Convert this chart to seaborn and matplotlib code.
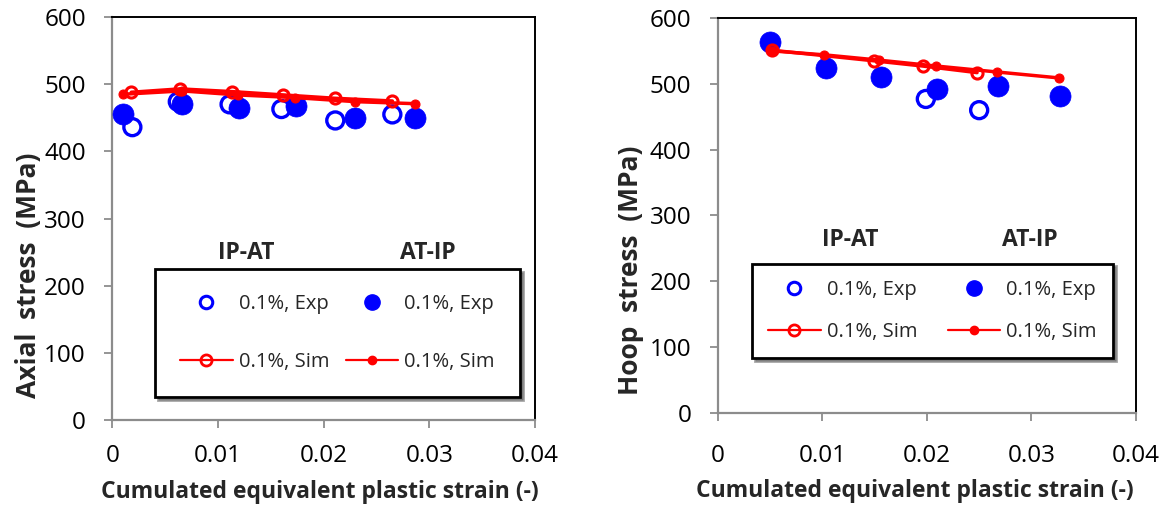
import matplotlib
matplotlib.use("Agg")
import matplotlib.pyplot as plt
from matplotlib.lines import Line2D
import seaborn as sns

sns.set_theme(style="white")
plt.rcParams['font.family'] = ['Open Sans', 'DejaVu Sans']

# Axial stress (left panel)
ax_ipat_exp_x = [0.0019, 0.0062, 0.0111, 0.0160, 0.0211, 0.0265]
ax_ipat_exp_y = [436, 474, 470, 463, 446, 455]
ax_atip_exp_x = [0.0010, 0.0066, 0.0120, 0.0174, 0.0230, 0.0286]
ax_atip_exp_y = [456, 471, 464, 467, 450, 450]
ax_ipat_sim_x = [0.0018, 0.0064, 0.0113, 0.0162, 0.0211, 0.0265]
ax_ipat_sim_y = [488, 493, 489, 484, 479, 475]
ax_atip_sim_x = [0.0010, 0.0066, 0.0119, 0.0173, 0.0230, 0.0286]
ax_atip_sim_y = [485, 490, 484, 480, 474, 471]

# Hoop stress (right panel)
hp_ipat_exp_x = [0.0199, 0.0250]
hp_ipat_exp_y = [477, 460]
hp_atip_exp_x = [0.0050, 0.0104, 0.0156, 0.0210, 0.0268, 0.0327]
hp_atip_exp_y = [563, 524, 511, 492, 497, 482]
hp_ipat_sim_x = [0.0052, 0.0149, 0.0196, 0.0248]
hp_ipat_sim_y = [551, 535, 527, 517]
hp_atip_sim_x = [0.0052, 0.0102, 0.0154, 0.0209, 0.0267, 0.0326]
hp_atip_sim_y = [550, 544, 536, 527, 518, 509]

x_ticks = [0, 0.01, 0.02, 0.03, 0.04]
x_tick_labels = ['0', '0.01', '0.02', '0.03', '0.04']
y_ticks = [0, 100, 200, 300, 400, 500, 600]

BLUE = '#0000ff'
RED = '#ff0000'
GRAY = '#8c8c8c'

fig = plt.figure(figsize=(11.72, 5.08), dpi=100)
ax1 = fig.add_axes([0.0958, 0.1732, 0.3607, 0.7933])
ax2 = fig.add_axes([0.6124, 0.1870, 0.3569, 0.7776])


def draw_panel(ax, ipx, ipy, atx, aty, ispx, ispy, aspx, aspy, ylabel, txt_y,
               leg_box, lspace, bpad, xpad, xlab_pos, ylab_pos):
    sns.scatterplot(x=ipx, y=ipy, ax=ax, s=150, facecolor='none', edgecolor=BLUE,
                    linewidth=2.4, zorder=3)
    sns.scatterplot(x=atx, y=aty, ax=ax, s=230, color=BLUE, edgecolor=BLUE,
                    linewidth=0.5, zorder=3)
    sns.lineplot(x=ispx, y=ispy, ax=ax, color=RED, lw=2.5, marker='o', markersize=8,
                 markerfacecolor='none', markeredgecolor=RED, markeredgewidth=2.2, zorder=4)
    sns.lineplot(x=aspx, y=aspy, ax=ax, color=RED, lw=2.5, marker='o', markersize=6.5,
                 markerfacecolor=RED, markeredgecolor=RED, zorder=4)

    ax.set_xlim(0, 0.04)
    ax.set_ylim(0, 600)
    ax.set_xticks(x_ticks)
    ax.set_xticklabels(x_tick_labels)
    ax.set_yticks(y_ticks)
    ax.tick_params(axis='both', direction='out', length=6, width=1.3, color=GRAY,
                   labelsize=17.5, labelcolor='black', left=True, bottom=True)
    ax.tick_params(axis='x', pad=xpad)
    ax.tick_params(axis='y', pad=13)
    for side in ['left', 'bottom']:
        ax.spines[side].set_color(GRAY)
        ax.spines[side].set_linewidth(1.6)
    for side in ['top', 'right']:
        ax.spines[side].set_color('black')
        ax.spines[side].set_linewidth(1.4)
    ax.set_xlabel('Cumulated equivalent plastic strain (-)', fontsize=16.5,
                  fontweight='bold')
    ax.set_ylabel(ylabel, fontsize=19, fontweight='bold')
    ax.xaxis.set_label_coords(*xlab_pos)
    ax.yaxis.set_label_coords(*ylab_pos)
    ax.grid(False)

    ax.text(0.317, txt_y, 'IP-AT', transform=ax.transAxes, ha='center', va='center',
            fontsize=16.5, fontweight='bold')
    ax.text(0.747, txt_y, 'AT-IP', transform=ax.transAxes, ha='center', va='center',
            fontsize=16.5, fontweight='bold')

    handles = [
        Line2D([], [], ls='none', marker='o', markersize=9, markerfacecolor='none',
               markeredgecolor=BLUE, markeredgewidth=2.2),
        Line2D([], [], color=RED, lw=1.6, marker='o', markersize=8,
               markerfacecolor='none', markeredgecolor=RED, markeredgewidth=2),
        Line2D([], [], ls='none', marker='o', markersize=11, color=BLUE),
        Line2D([], [], color=RED, lw=1.6, marker='o', markersize=6),
    ]
    labels = ['0.1%, Exp', '0.1%, Sim', '0.1%, Exp', '0.1%, Sim']
    leg = ax.legend(handles, labels, ncol=2, loc='center', bbox_to_anchor=leg_box,
                    mode='expand', fontsize=14.5, frameon=True, fancybox=False,
                    shadow=True, handlelength=2.6, handletextpad=0.3,
                    labelspacing=lspace, borderpad=bpad, columnspacing=1.0,
                    borderaxespad=0)
    leg.get_frame().set_edgecolor('black')
    leg.get_frame().set_linewidth(2.0)


draw_panel(ax1, ax_ipat_exp_x, ax_ipat_exp_y, ax_atip_exp_x, ax_atip_exp_y,
           ax_ipat_sim_x, ax_ipat_sim_y, ax_atip_sim_x, ax_atip_sim_y,
           'Axial  stress  (MPa)', 0.414, (0.101, 0.067, 0.863, 0.298), 1.85, 1.25,
           11, (0.491, -0.148), (-0.166, 0.36))
draw_panel(ax2, hp_ipat_exp_x, hp_ipat_exp_y, hp_atip_exp_x, hp_atip_exp_y,
           hp_ipat_sim_x, hp_ipat_sim_y, hp_atip_sim_x, hp_atip_sim_y,
           'Hoop  stress  (MPa)', 0.438, (0.082, 0.137, 0.863, 0.243), 1.1, 0.8,
           16, (0.472, -0.168), (-0.176, 0.362))

fig.savefig('out.png', dpi=100)
